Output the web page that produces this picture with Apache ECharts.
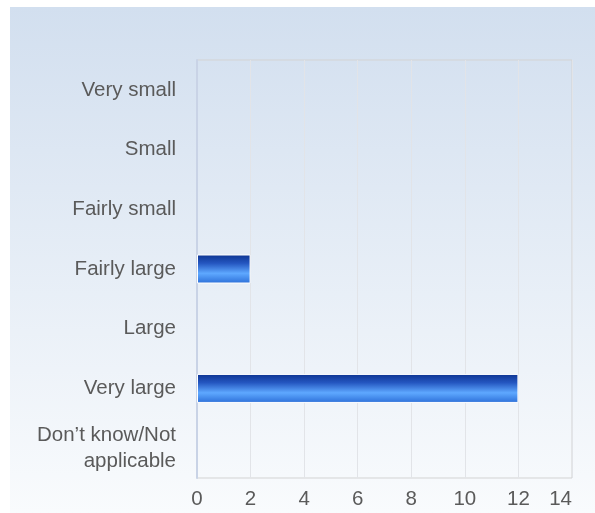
<!DOCTYPE html>
<html>
<head>
<meta charset="utf-8">
<script src="https://cdn.jsdelivr.net/npm/echarts@6/dist/echarts.min.js"></script>
<style>
  html, body { margin: 0; padding: 0; background: #fff; }
  #chart { width: 595px; height: 513px; }
</style>
</head>
<body>
<div id="chart"></div>
<script>
const categories = [
  'Very small',
  'Small',
  'Fairly small',
  'Fairly large',
  'Large',
  'Very large',
  'Don\u2019t know/Not\napplicable',
]
const counts = [0, 0, 0, 2, 0, 12, 0]

const myChart = echarts.init(document.getElementById('chart'))

const labelStyle = {
  fontFamily: 'Liberation Sans, Arial, sans-serif',
  fontSize: 20.5,
  color: '#5a5a5a',
}

const option = {
  backgroundColor: 'transparent',
  animation: false,
  graphic: [
    {
      type: 'rect',
      z: -10,
      shape: { x: 10, y: 7, width: 585, height: 506 },
      style: {
        fill: new echarts.graphic.LinearGradient(0, 0, 0, 1, [
          { offset: 0, color: '#d2dfef' },
          { offset: 1, color: '#f9fbfd' },
        ]),
      },
    },
  ],
  grid: {
    left: 197,
    right: 23,
    top: 60,
    bottom: 35,
    show: true,
    borderColor: '#d3d3d3',
    borderWidth: 1,
    backgroundColor: 'transparent',
  },
  xAxis: {
    type: 'value',
    min: 0,
    max: 14,
    interval: 2,
    axisLine: { show: false },
    axisTick: { show: false },
    splitLine: { show: true, lineStyle: { color: '#e2e4e8', width: 1 } },
    axisLabel: { ...labelStyle, margin: 11, alignMaxLabel: 'right' },
  },
  yAxis: {
    type: 'category',
    data: categories,
    inverse: true,
    axisLine: { show: true, lineStyle: { color: '#c9d3e6', width: 2 } },
    axisTick: { show: false },
    splitLine: { show: false },
    axisLabel: {
      ...labelStyle,
      margin: 21,
      align: 'right',
      lineHeight: 26,
      padding: [9, 0, 0, 0],
    },
  },
  series: [
    {
      type: 'bar',
      // zero bars get no border so they stay invisible
      data: counts.map((v) => ({
        value: v,
        itemStyle: { borderWidth: v ? 1 : 0 },
      })),
      barWidth: 29,
      itemStyle: {
        borderColor: '#ffffff',
        color: new echarts.graphic.LinearGradient(0, 0, 0, 1, [
          { offset: 0, color: '#0d3490' },
          { offset: 0.3, color: '#2456c0' },
          { offset: 0.65, color: '#5ea8ff' },
          { offset: 1, color: '#2c6fd8' },
        ]),
      },
    },
  ],
}

myChart.setOption(option, true)
</script>
</body>
</html>
